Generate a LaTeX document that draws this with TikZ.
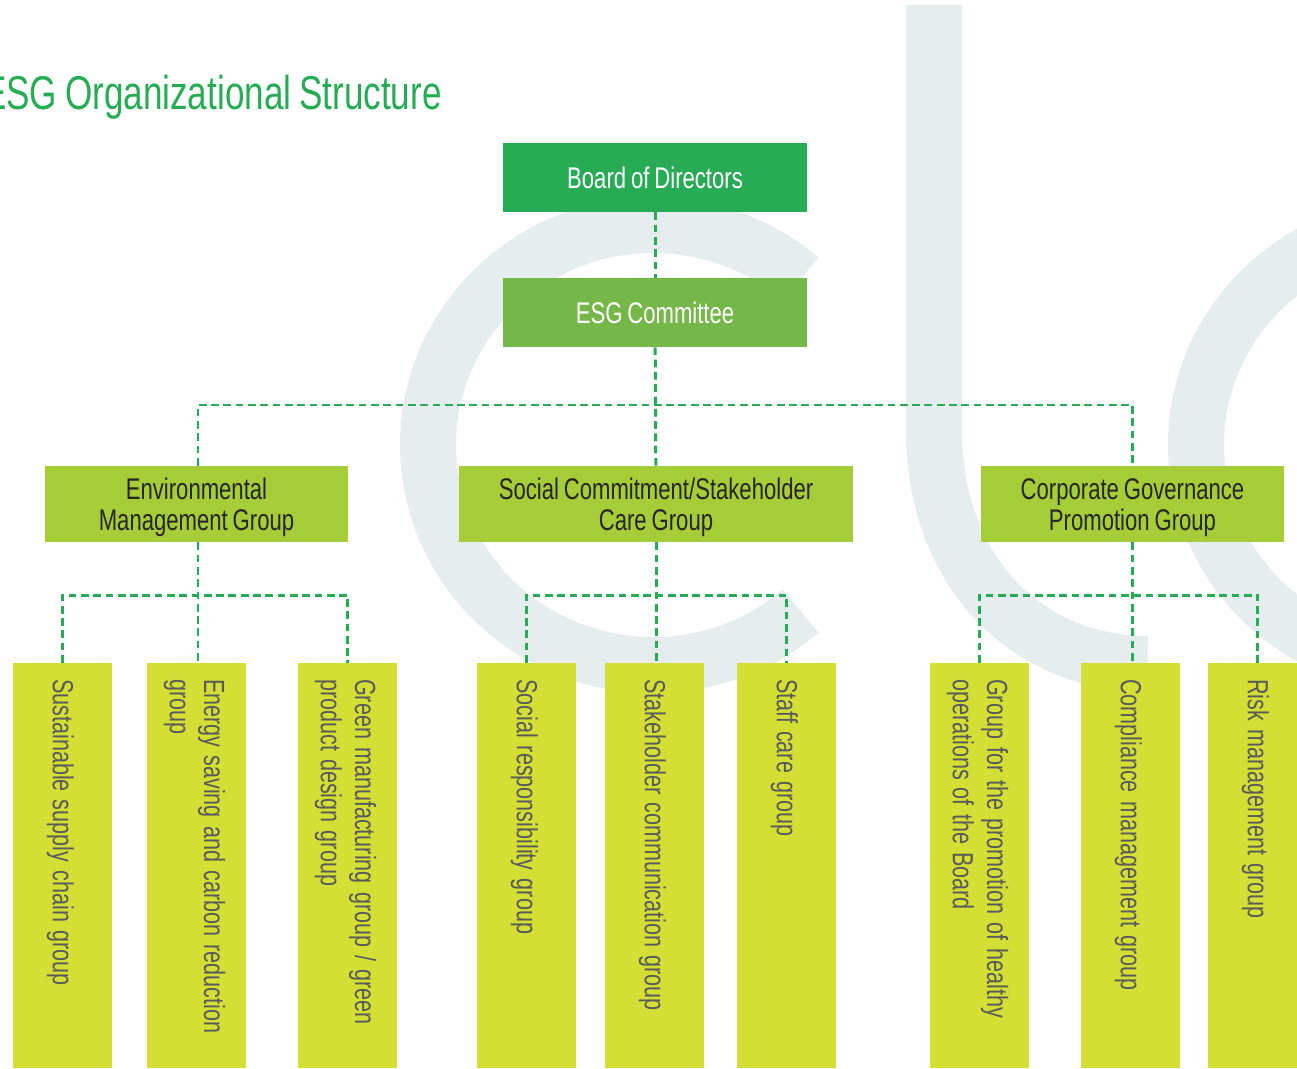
\documentclass[tikz,border=0pt]{standalone}
\usepackage{fontspec}
\usepackage{xcolor}
\setmainfont[FakeStretch=0.74, WordSpace=0.8]{Liberation Sans}
\newfontfamily\leaffont[FakeStretch=0.74, WordSpace=1.36]{Liberation Sans}
\definecolor{logoGray}{HTML}{E6EDEE}
\definecolor{titleGreen}{HTML}{27AC55}
\definecolor{esgGreen}{HTML}{76B74A}
\definecolor{groupGreen}{HTML}{A6CC38}
\definecolor{leafGreen}{HTML}{D3DF35}
\tikzset{
	logo/.style={draw=logoGray, line width=1.12cm},
	topbox/.style={minimum width=6.08cm, minimum height=1.38cm, inner sep=0pt, text=white, font=\fontsize{17}{18}\selectfont},
	groupbox/.style={minimum height=1.52cm, inner sep=0pt, fill=groupGreen, text=black!85, align=center, text height=34pt, font=\fontsize{17}{18}\selectfont},
	leafbox/.style={rotate=-90, minimum width=8.1cm, minimum height=1.98cm, inner xsep=0.32cm, inner ysep=0pt, fill=leafGreen, text=black!65, text width=7.46cm, align=flush left, text height=14.3pt, font=\leaffont\fontsize{16.6}{19.4}\selectfont},
	dashline/.style={draw=titleGreen, line width=1.7pt, dash pattern=on 4.4pt off 2.6pt}
}

\begin{document}
\begin{tikzpicture}[x=0.02cm, y=-0.02cm]
	\useasboundingbox (0,0) rectangle (1297,1068);
	\clip (0,0) rectangle (1297,1068);

	% Letters behind the chart
	\draw[logo] (800.6,279) arc[start angle=-49, end angle=-311, x radius=225, y radius=220];
	\draw[logo] (934,5) -- (934,430) .. controls (934,575) and (1030,664) .. (1148,664);
	\draw[logo] (1568.6,279) arc[start angle=-49, end angle=-311, x radius=225, y radius=220];

	% Title
	\node[anchor=east, text=titleGreen, inner sep=0pt, font=\fontsize{27}{30}\selectfont] (title) at (442,97) {ESG Organizational Structure};

	% Top of the chart
	\node[topbox, fill=titleGreen] (board) at (655,177.5) {Board of Directors};
	\node[topbox, fill=esgGreen] (esg) at (655,312.5) {ESG Committee};

	% Groups
	\node[groupbox, minimum width=6.06cm] (env) at (196.5,504) {Environmental\\Management Group};
	\node[groupbox, minimum width=7.88cm] (soc) at (656,504) {Social Commitment/Stakeholder\\Care Group};
	\node[groupbox, minimum width=6.06cm] (corp) at (1132.5,504) {Corporate Governance\\Promotion Group};

	% Environmental leaves
	\node[leafbox] (supply) at (62.5,865.5) {Sustainable supply chain group};
	\node[leafbox] (energy) at (196.5,865.5) {Energy saving and carbon reduction\\group};
	\node[leafbox] (manuf) at (347.5,865.5) {Green manufacturing group / green\\product design group};

	% Social leaves
	\node[leafbox] (social) at (526.5,865.5) {Social responsibility group};
	\node[leafbox] (stake) at (654.5,865.5) {Stakeholder communication group};
	\node[leafbox] (staff) at (786.5,865.5) {Staff care group};

	% Governance leaves
	\node[leafbox] (health) at (979.5,865.5) {Group for the promotion of healthy\\operations of the Board};
	\node[leafbox] (comply) at (1130.5,865.5) {Compliance management group};
	\node[leafbox] (risk) at (1257.5,865.5) {Risk management group};

	% Branch points
	\coordinate (bus) at (656,405);
	\coordinate (envbus) at (198,595);
	\coordinate (socbus) at (656,595);
	\coordinate (corpbus) at (1132,595);

	% Draw mappings
	\draw[dashline] (board) -- (esg);
	\draw[dashline] (esg) -- (soc);
	\draw[dashline] (envbus |- env.north) |- (bus) -| (corp.north);

	\draw[dashline] (envbus |- env.south) -- (envbus |- energy.west);
	\draw[dashline] (supply.west) |- (envbus) -| (manuf.west);

	\draw[dashline] (soc.south) -- (stake.west -| soc.south);
	\draw[dashline] (social.west) |- (socbus) -| (staff.west);

	\draw[dashline] (corp.south) -- (comply.west -| corp.south);
	\draw[dashline] (health.west) |- (corpbus) -| (risk.west);
\end{tikzpicture}
\end{document}
